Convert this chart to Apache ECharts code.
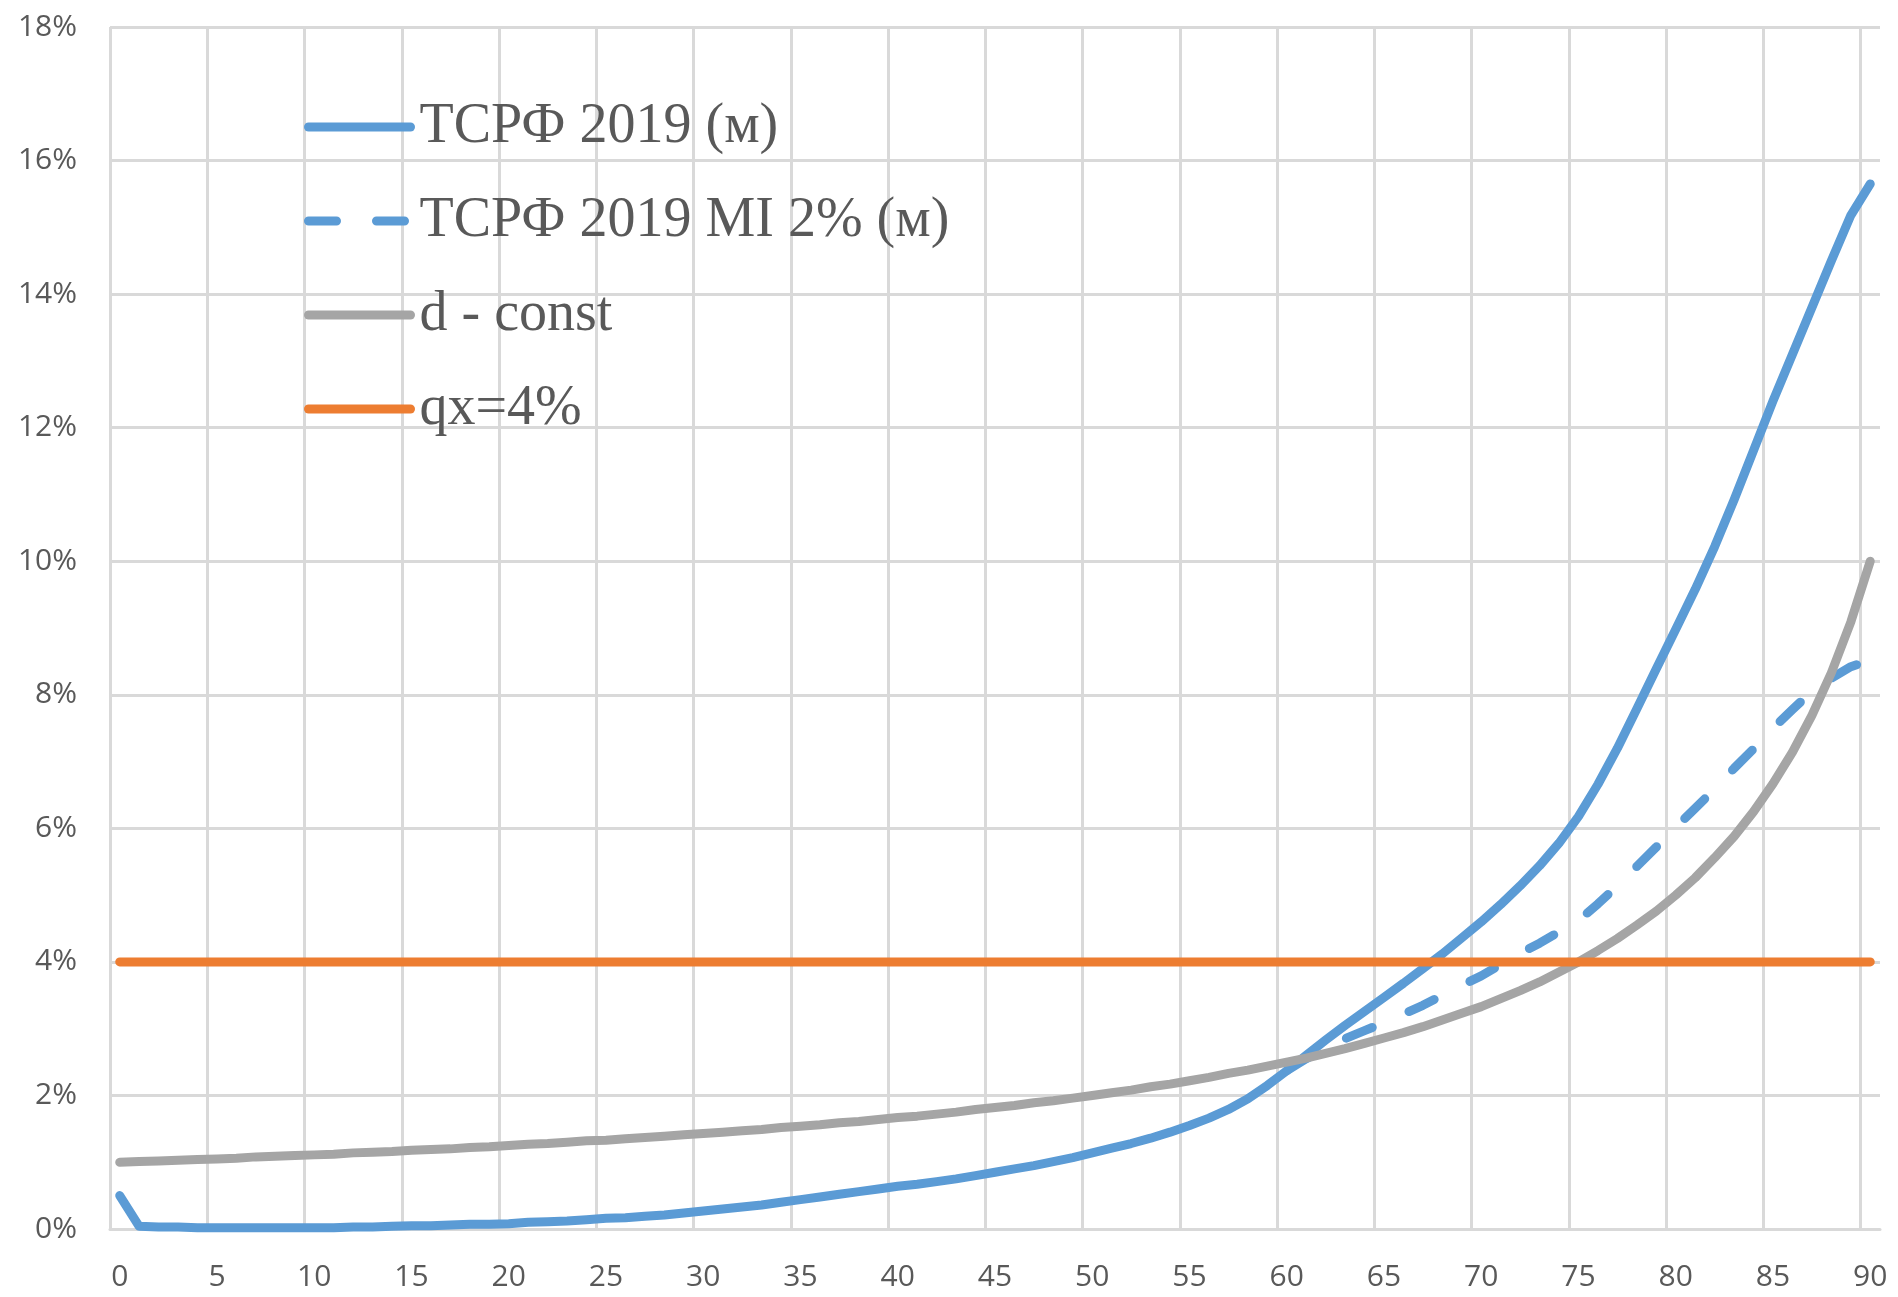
<!DOCTYPE html>
<html><head><meta charset="utf-8">
<script src="https://cdn.jsdelivr.net/npm/echarts@6/dist/echarts.min.js"></script>
<style>html,body{margin:0;padding:0;background:#fff}#c{width:1898px;height:1297px}</style>
</head><body><div id="c"></div>
<script>
// Age categories 0..90
const ages = [0,1,2,3,4,5,6,7,8,9,10,11,12,13,14,15,16,17,18,19,20,21,22,23,24,25,26,27,28,29,30,
  31,32,33,34,35,36,37,38,39,40,41,42,43,44,45,46,47,48,49,50,51,52,53,54,55,56,57,58,59,60,
  61,62,63,64,65,66,67,68,69,70,71,72,73,74,75,76,77,78,79,80,81,82,83,84,85,86,87,88,89,90];

const seriesNames = ['ТСРФ 2019 (м)', 'ТСРФ 2019 MI 2% (м)', 'd - const', 'qx=4%'];

// values in %
const tsrf = [0.50,0.04,0.03,0.03,0.02,0.02,0.02,0.02,0.02,0.02,0.02,0.02,0.03,0.03,0.04,0.05,0.05,0.06,0.07,0.07,
  0.08,0.10,0.11,0.12,0.14,0.16,0.17,0.19,0.21,0.24,0.27,0.30,0.33,0.36,0.40,0.44,0.48,0.52,0.56,0.60,
  0.64,0.67,0.71,0.75,0.80,0.85,0.90,0.95,1.01,1.07,1.14,1.21,1.28,1.36,1.45,1.55,1.66,1.79,1.95,2.15,
  2.37,2.60,2.83,3.05,3.26,3.47,3.68,3.90,4.12,4.36,4.60,4.86,5.14,5.44,5.78,6.18,6.66,7.20,7.79,8.39,
  8.98,9.58,10.22,10.92,11.66,12.40,13.10,13.80,14.50,15.18,15.65];

const tsrfMI = [null,null,null,null,null,null,null,null,null,null,null,null,null,null,null,null,null,null,null,null,
  null,null,null,null,null,null,null,null,null,null,null,null,null,null,null,null,null,null,null,null,
  null,null,null,null,null,null,null,null,null,null,null,null,null,null,null,null,null,null,null,null,
  2.37,2.55,2.71,2.85,2.97,3.09,3.22,3.35,3.50,3.65,3.79,3.96,4.13,4.28,4.45,4.62,4.87,5.14,5.43,5.72,
  6.02,6.30,6.59,6.90,7.19,7.50,7.78,8.05,8.25,8.42,8.52];

const dConst = [1.00,1.01,1.02,1.03,1.04,1.05,1.06,1.08,1.09,1.10,1.11,1.12,1.14,1.15,1.16,1.18,1.19,1.20,1.22,1.23,
  1.25,1.27,1.28,1.30,1.32,1.33,1.35,1.37,1.39,1.41,1.43,1.45,1.47,1.49,1.52,1.54,1.56,1.59,1.61,1.64,
  1.67,1.69,1.72,1.75,1.79,1.82,1.85,1.89,1.92,1.96,2.00,2.04,2.08,2.13,2.17,2.22,2.27,2.33,2.38,2.44,
  2.50,2.56,2.63,2.70,2.78,2.86,2.94,3.03,3.13,3.23,3.33,3.45,3.57,3.70,3.85,4.00,4.17,4.35,4.55,4.76,
  5.00,5.26,5.56,5.88,6.25,6.67,7.14,7.69,8.33,9.09,10.00];

const qx4 = [4,4,4,4,4,4,4,4,4,4,4,4,4,4,4,4,4,4,4,4,4,4,4,4,4,4,4,4,4,4,
  4,4,4,4,4,4,4,4,4,4,4,4,4,4,4,4,4,4,4,4,4,4,4,4,4,4,4,4,4,4,
  4,4,4,4,4,4,4,4,4,4,4,4,4,4,4,4,4,4,4,4,4,4,4,4,4,4,4,4,4,4,4];

const yMin = 0, yMax = 18, yStep = 2;

const axisFont = '"Open Sans", "Liberation Sans", sans-serif';
const legendFont = '"Liberation Serif", "Times New Roman", serif';
const gridColor = '#d9d9d9';
const textColor = '#595959';

const chart = echarts.init(document.getElementById('c'), null, {renderer: 'canvas'});

function lineSeries(name, data, color, dashed, z) {
  return {
    name: name, type: 'line', data: data, showSymbol: false, symbol: 'none',
    color: color, z: z, silent: true, connectNulls: false,
    lineStyle: {color: color, width: 9, cap: 'round', join: 'round',
      type: dashed ? [28, 40] : 'solid'},
    itemStyle: {color: color},
    emphasis: {disabled: true}
  };
}

chart.setOption({
  animation: false,
  backgroundColor: '#ffffff',
  grid: {left: 110, right: 18, top: 27, bottom: 68, containLabel: false, outerBoundsMode: 'none'},
  legend: {
    orient: 'vertical', left: 304, top: 97, padding: 0,
    itemWidth: 102, itemHeight: 20, itemGap: 34,
    selectedMode: false,
    textStyle: {fontFamily: legendFont, fontSize: 56, color: textColor, lineHeight: 60, padding: [0, 0, 0, 4]},
    lineStyle: {width: 9},
    itemStyle: {opacity: 0, borderWidth: 0},
    data: seriesNames
  },
  xAxis: {
    type: 'category', data: ages, boundaryGap: true,
    axisLine: {show: true, lineStyle: {color: gridColor, width: 3}},
    axisTick: {show: false},
    axisLabel: {interval: 4, margin: 33, fontFamily: axisFont, fontSize: 30, color: textColor},
    splitLine: {show: true, interval: 4, showMaxLine: false, lineStyle: {color: gridColor, width: 3}}
  },
  yAxis: {
    type: 'value', min: yMin, max: yMax, interval: yStep,
    axisLine: {show: false}, axisTick: {show: false},
    axisLabel: {formatter: '{value}%', margin: 33, fontFamily: axisFont, fontSize: 30, color: textColor},
    splitLine: {show: true, lineStyle: {color: gridColor, width: 3}}
  },
  series: [
    lineSeries(seriesNames[0], tsrf, '#5B9BD5', false, 2),
    lineSeries(seriesNames[1], tsrfMI, '#5B9BD5', true, 3),
    lineSeries(seriesNames[2], dConst, '#A5A5A5', false, 4),
    lineSeries(seriesNames[3], qx4, '#ED7D31', false, 5)
  ]
});
</script>
</body></html>
